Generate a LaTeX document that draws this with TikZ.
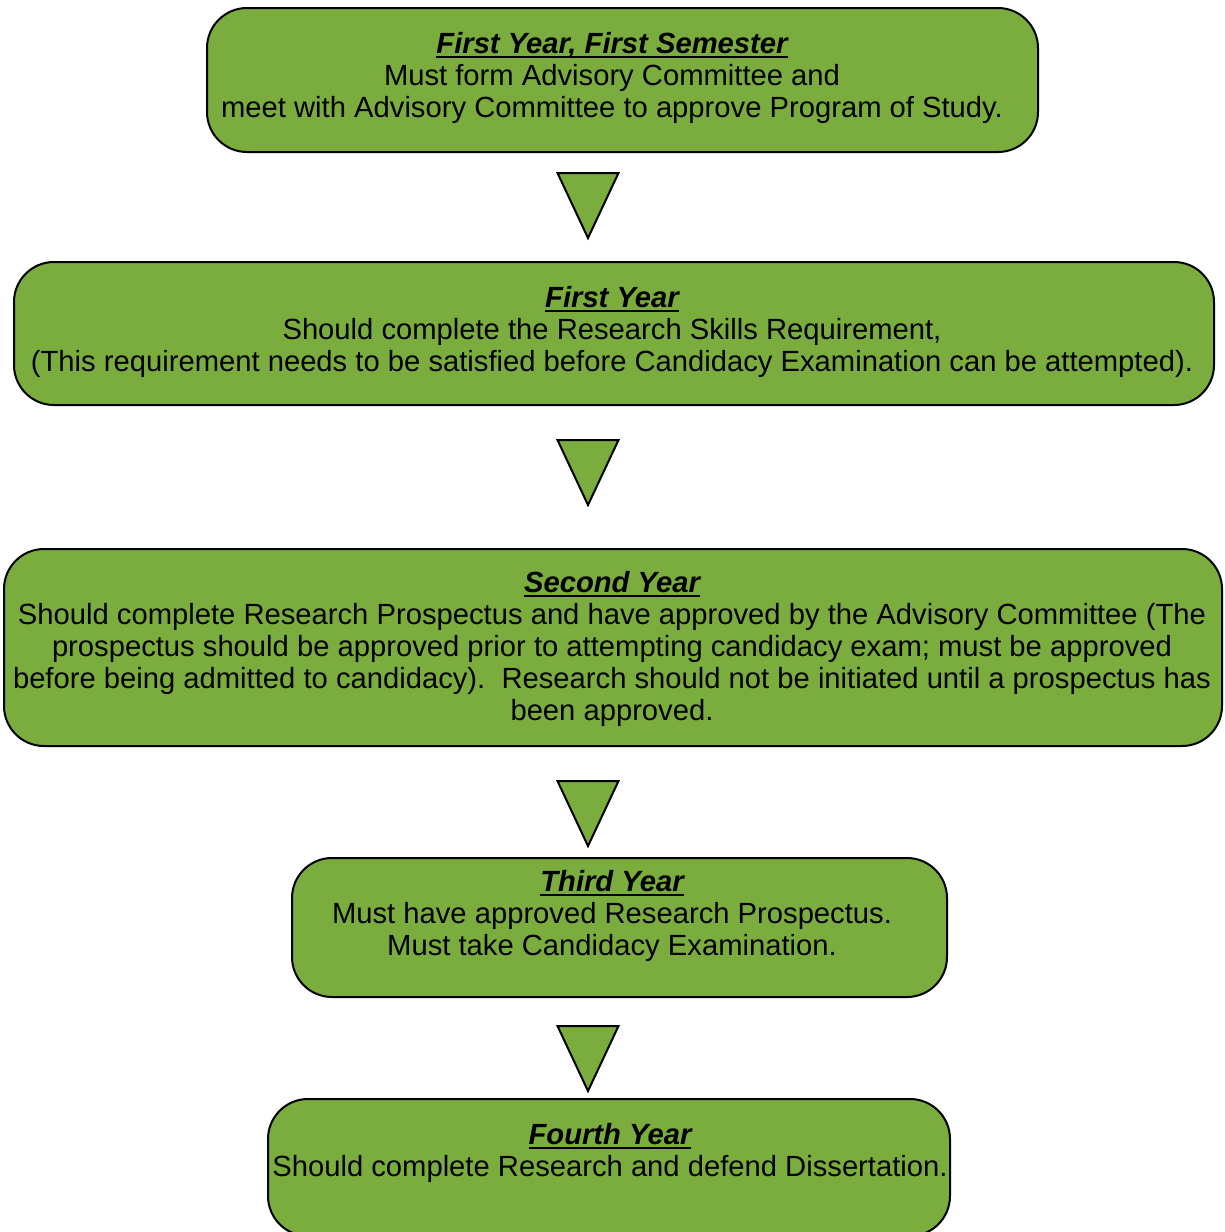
\documentclass[tikz,border=0pt]{standalone}
\usepackage{fontspec}
\setmainfont{Liberation Sans}
\usetikzlibrary{calc}
\definecolor{boxgreen}{RGB}{122,173,61}
\newsavebox{\ttlbox}
\newcommand{\ttl}[1]{\sbox{\ttlbox}{\bfseries\itshape #1}\rlap{\raisebox{-4pt}{\rule{\wd\ttlbox}{2pt}}}\usebox{\ttlbox}}
\begin{document}
\begin{tikzpicture}[x=1pt,y=-1pt,
  stagebox/.style={draw=black,line width=2pt,fill=boxgreen,rounded corners=40pt,inner sep=0pt},
  stagetext/.style={align=center,inner sep=0pt,font=\fontsize{29.2}{32}\selectfont},
  arrowtri/.style={draw=black,line width=2pt,fill=boxgreen,line join=miter}]
\useasboundingbox (0,0) rectangle (1225,1232);
\begin{scope}
\clip (0,0) rectangle (1225,1232);
% boxes
\node[stagebox,minimum width=831pt,minimum height=144pt] (b1) at (622.5,80) {};
\node[stagebox,minimum width=1200pt,minimum height=143pt] (b2) at (614,333.5) {};
\node[stagebox,minimum width=1218pt,minimum height=197pt] (b3) at (613,647.5) {};
\node[stagebox,minimum width=655pt,minimum height=139pt] (b4) at (619.5,927.5) {};
\node[stagebox,minimum width=682pt,minimum height=137pt] (b5) at (609,1167.5) {};
\end{scope}
% texts
\node[stagetext] (t1) at (612,78) {\ttl{First Year, First Semester}\\Must form Advisory Committee and\\meet with Advisory Committee to approve Program of Study.};
\node[stagetext] (t2) at (612,332) {\ttl{First Year}\\Should complete the Research Skills Requirement,\\(This requirement needs to be satisfied before Candidacy Examination can be attempted).};
\node[stagetext] (t3) at (612,649) {\ttl{Second Year}\\Should complete Research Prospectus and have approved by the Advisory Committee (The\\prospectus should be approved prior to attempting candidacy exam; must be approved\\before being admitted to candidacy).\ \ Research should not be initiated until a prospectus has\\been approved.};
\node[stagetext] (t4) at (612,916) {\ttl{Third Year}\\Must have approved Research Prospectus.\\Must take Candidacy Examination.};
\node[stagetext] (t5) at (610,1153) {\ttl{Fourth Year}\\Should complete Research and defend Dissertation.};
% arrows
\coordinate (a1) at (588,173);
\coordinate (a2) at (588,440);
\coordinate (a3) at (588,781);
\coordinate (a4) at (588,1026);
\foreach \a in {a1,a2,a3,a4}
  \draw[arrowtri] ($(\a)+(-30.5,0)$) -- ($(\a)+(30.5,0)$) -- ($(\a)+(0,65)$) -- cycle;
\end{tikzpicture}
\end{document}
